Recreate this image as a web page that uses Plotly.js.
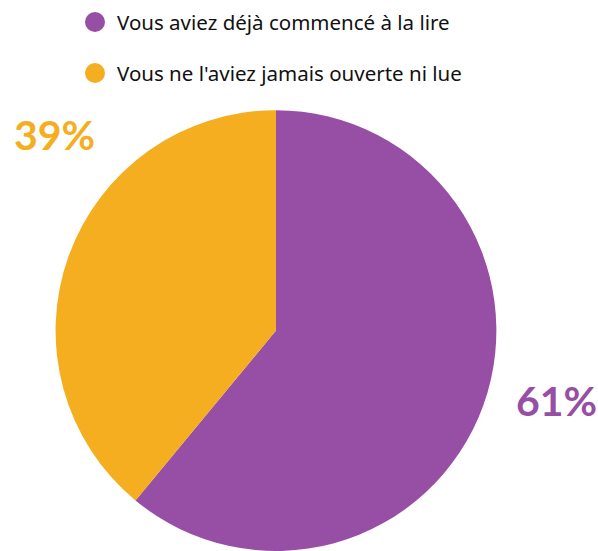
<!DOCTYPE html>
<html>
<head>
<meta charset="utf-8">
<script src="https://cdn.plot.ly/plotly-3.0.1.min.js"></script>
<style>html,body{margin:0;padding:0;background:#fff;}#chart{width:598px;height:551px;}</style>
</head>
<body>
<div id="chart"></div>
<script>
const categories = ["Vous aviez déjà commencé à la lire", "Vous ne l'aviez jamais ouverte ni lue"];
const values = [61, 39];
const colors = ["#974EA5", "#F5AE20"];

const W = 598, H = 551;
const px = x => x / W;
const py = y => (H - y) / H;

const labelPos = [[556, 400], [54, 135]];
const legendRows = [22, 73];

const annotations = [];
const shapes = [];
categories.forEach((c, i) => {
  annotations.push({
    xref: 'paper', yref: 'paper', x: px(labelPos[i][0]), y: py(labelPos[i][1]),
    xanchor: 'center', yanchor: 'middle', showarrow: false,
    text: '<b>' + values[i] + '%</b>',
    font: {family: 'Lato, sans-serif', size: 41, color: colors[i]}
  });
  annotations.push({
    xref: 'paper', yref: 'paper', x: px(115), y: py(legendRows[i]),
    xanchor: 'left', yanchor: 'middle', showarrow: false,
    text: c,
    font: {family: '"Noto Sans", sans-serif', size: 20.5, color: '#111'}
  });
  shapes.push({
    type: 'circle', xref: 'paper', yref: 'paper',
    x0: px(85), x1: px(105), y0: py(legendRows[i] + 10), y1: py(legendRows[i] - 10),
    fillcolor: colors[i], line: {width: 0}
  });
});

const data = [{
  type: 'pie',
  labels: categories,
  values: values,
  marker: {colors: colors, line: {width: 0}},
  sort: false,
  direction: 'clockwise',
  rotation: 0,
  textinfo: 'none',
  hoverinfo: 'none',
  showlegend: false,
  domain: {x: [0.092, 0.831], y: [0, 0.8]}
}];

const layout = {
  width: W, height: H,
  margin: {l: 0, r: 0, t: 0, b: 0},
  paper_bgcolor: '#fff',
  showlegend: false,
  annotations: annotations,
  shapes: shapes
};

Plotly.newPlot('chart', data, layout, {displayModeBar: false, staticPlot: true});
</script>
</body>
</html>
